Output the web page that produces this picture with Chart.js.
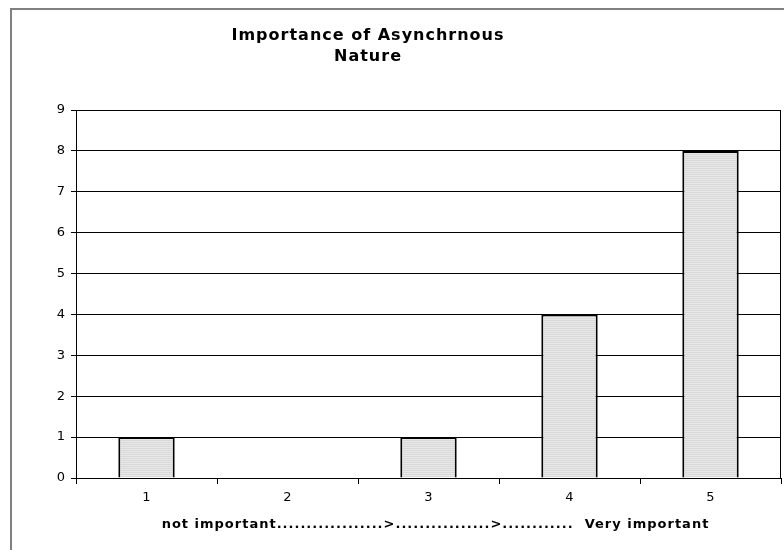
<!DOCTYPE html>
<html>
<head>
<meta charset="utf-8">
<script src="https://cdn.jsdelivr.net/npm/chart.js@4/dist/chart.umd.min.js"></script>
<style>
  html, body { margin: 0; padding: 0; background: #ffffff; }
  #wrap { position: relative; width: 784px; height: 550px; }
</style>
</head>
<body>
<div id="wrap"><canvas id="c" width="784" height="550"></canvas></div>
<script>
const categories = ["1", "2", "3", "4", "5"];
const counts = [1, 0, 1, 4, 8];
const yTicks = [0, 1, 2, 3, 4, 5, 6, 7, 8, 9];
const titleLines = ["Importance of Asynchrnous", "Nature"];
const xTitle = "not important..................>................>............  Very important";

function stripePattern() {
  const p = document.createElement('canvas');
  p.width = 4; p.height = 4;
  const g = p.getContext('2d');
  g.fillStyle = '#e8e8e8';
  g.fillRect(0, 0, 4, 4);
  g.fillStyle = '#d9d9d9';
  g.fillRect(0, 0, 4, 1);
  g.fillRect(0, 2, 4, 1);
  return g.createPattern(p, 'repeat');
}

const framePlugin = {
  id: 'frame',
  beforeDraw(chart) {
    const ctx = chart.ctx;
    ctx.save();
    ctx.fillStyle = '#ffffff';
    ctx.fillRect(0, 0, chart.width, chart.height);
    ctx.strokeStyle = '#808080';
    ctx.lineWidth = 2;
    ctx.beginPath();
    ctx.moveTo(11, chart.height + 2);
    ctx.lineTo(11, 9);
    ctx.lineTo(chart.width + 2, 9);
    ctx.stroke();
    ctx.restore();
  },
  afterDraw(chart) {
    const ctx = chart.ctx;
    const a = chart.chartArea;
    ctx.save();
    ctx.strokeStyle = '#000000';
    ctx.lineWidth = 1;
    ctx.beginPath();
    ctx.moveTo(Math.round(a.right) - 0.5, a.top);
    ctx.lineTo(Math.round(a.right) - 0.5, a.bottom);
    ctx.stroke();
    ctx.fillStyle = '#000000';
    ctx.textAlign = 'center';
    ctx.textBaseline = 'middle';
    ctx.font = 'bold 16px "DejaVu Sans", Verdana, sans-serif';
    ctx.letterSpacing = '1px';
    ctx.fillText(titleLines[0], 368, 36);
    ctx.fillText(titleLines[1], 368, 57);
    ctx.font = 'bold 13px "DejaVu Sans", Verdana, sans-serif';
    ctx.letterSpacing = '1px';
    ctx.fillText(xTitle, (a.left + a.right) / 2 + 7, 525);
    ctx.restore();
  }
};

new Chart(document.getElementById('c'), {
  type: 'bar',
  data: {
    labels: categories,
    datasets: [{
      data: counts,
      backgroundColor: stripePattern(),
      borderColor: '#000000',
      borderWidth: 2,
      barPercentage: 0.4,
      categoryPercentage: 1.0
    }]
  },
  plugins: [framePlugin],
  options: {
    responsive: false,
    animation: false,
    devicePixelRatio: 1,
    layout: { padding: { top: 110, right: 3, left: 0, bottom: 0 } },
    plugins: {
      legend: { display: false },
      tooltip: { enabled: false },
      title: { display: false }
    },
    scales: {
      x: {
        offset: true,
        grid: {
          offset: true,
          drawOnChartArea: false,
          drawTicks: true,
          tickLength: 6,
          color: '#000000'
        },
        border: { display: true, color: '#000000', width: 1 },
        ticks: {
          color: '#000000',
          font: { family: '"DejaVu Sans", Verdana, sans-serif', size: 13 },
          padding: 6
        },
        title: { display: false },
        afterFit(scale) { scale.height = 72; }
      },
      y: {
        min: 0,
        max: 9,
        afterBuildTicks(scale) { scale.ticks = yTicks.map(v => ({ value: v })); },
        grid: {
          color: '#000000',
          lineWidth: 1,
          drawTicks: true,
          tickLength: 5
        },
        border: { display: true, color: '#000000', width: 1 },
        ticks: {
          color: '#000000',
          font: { family: '"DejaVu Sans", Verdana, sans-serif', size: 13 },
          padding: 6
        },
        afterFit(scale) { scale.width = 76; }
      }
    }
  }
});
</script>
</body>
</html>
